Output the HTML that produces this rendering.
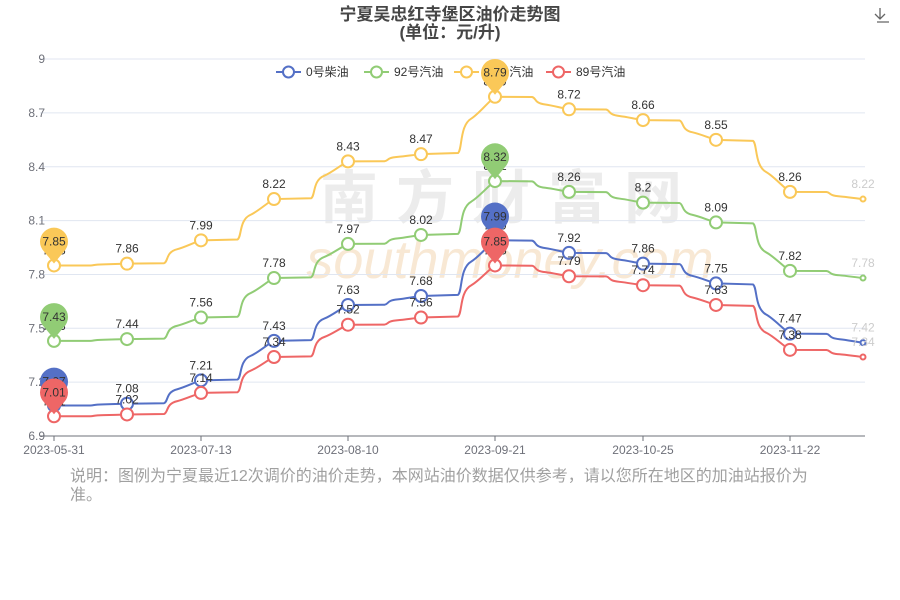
<!DOCTYPE html>
<html><head><meta charset="utf-8"><style>
body{margin:0;background:#fff;width:900px;height:600px;overflow:hidden;font-family:"Liberation Sans","Noto Sans CJK SC",sans-serif}
#note{position:absolute;left:70px;top:467px;width:745px;font-size:16px;line-height:19px;color:#a0a0a0}
</style></head><body>
<svg id="c" width="900" height="600" style="position:absolute;left:0;top:0" font-family="Liberation Sans, Noto Sans CJK SC, sans-serif"></svg>
<div id="note">说明：图例为宁夏最近12次调价的油价走势，本网站油价数据仅供参考，请以您所在地区的加油站报价为准。</div>
<script>
var xs=[54,127,201,274,348,421,495,569,643,716,790,863];
function Y(v){return 436-(v-6.9)*179.5;}
var S=[
{n:'0号柴油',c:'#5470c6',d:[7.07,7.08,7.21,7.43,7.63,7.68,7.99,7.92,7.86,7.75,7.47,7.42]},
{n:'92号汽油',c:'#91cc75',d:[7.43,7.44,7.56,7.78,7.97,8.02,8.32,8.26,8.2,8.09,7.82,7.78]},
{n:'95号汽油',c:'#fac858',d:[7.85,7.86,7.99,8.22,8.43,8.47,8.79,8.72,8.66,8.55,8.26,8.22]},
{n:'89号汽油',c:'#ee6666',d:[7.01,7.02,7.14,7.34,7.52,7.56,7.85,7.79,7.74,7.63,7.38,7.34]}];
var h='';
h+='<text x="450" y="20" text-anchor="middle" font-size="17" font-weight="bold" fill="#464646">宁夏吴忠红寺堡区油价走势图</text>';
h+='<text x="450" y="38" text-anchor="middle" font-size="17" font-weight="bold" fill="#464646">(单位：元/升)</text>';
h+='<text x="510" y="218" text-anchor="middle" font-size="58" fill="#ececec" font-weight="bold" letter-spacing="18">南方财富网</text>';
h+='<text x="510" y="278" text-anchor="middle" font-size="54" fill="#f8e8d4" font-style="italic">southmoney.com</text>';
for(var i=0;i<8;i++){var v=6.9+i*0.3,y=Y(v);
 h+='<line x1="40" x2="865" y1="'+y+'" y2="'+y+'" stroke="#e0e6f1"/>';
 h+='<text x="45" y="'+(y+4)+'" text-anchor="end" font-size="12" fill="#6e7079">'+(Math.round(v*10)/10)+'</text>';}
h+='<line x1="40" x2="865" y1="436" y2="436" stroke="#6e7079"/>';
[[54,'2023-05-31'],[201,'2023-07-13'],[348,'2023-08-10'],[495,'2023-09-21'],[643,'2023-10-25'],[790,'2023-11-22']].forEach(function(t){
 h+='<line x1="'+t[0]+'" x2="'+t[0]+'" y1="436" y2="441" stroke="#6e7079"/>';
 h+='<text x="'+t[0]+'" y="454" text-anchor="middle" font-size="12" fill="#6e7079">'+t[1]+'</text>';});
var lx=[276,364,454,546];
S.forEach(function(s,k){
 h+='<line x1="'+lx[k]+'" x2="'+(lx[k]+25)+'" y1="72" y2="72" stroke="'+s.c+'" stroke-width="2"/><circle cx="'+(lx[k]+12.5)+'" cy="72" r="5.5" fill="#fff" stroke="'+s.c+'" stroke-width="2"/>';
 h+='<text x="'+(lx[k]+30)+'" y="76" font-size="12" fill="#333">'+s.n+'</text>';});
S.forEach(function(s){
 var p='M'+xs[0]+' '+Y(s.d[0]);
 for(var i=1;i<12;i++){var x0=xs[i-1],x1=xs[i],y0=Y(s.d[i-1]),y1=Y(s.d[i]),dx=x1-x0,dy=y1-y0;
  p+=' L'+(x0+0.5*dx)+' '+(y0+0.02*dy)+' C'+(x0+0.56*dx)+' '+(y0+0.08*dy)+' '+(x0+0.52*dx)+' '+(y0+0.5*dy)+' '+(x0+0.68*dx)+' '+(y0+0.62*dy)+' C'+(x0+0.78*dx)+' '+(y0+0.7*dy)+' '+(x0+0.9*dx)+' '+(y0+0.9*dy)+' '+x1+' '+y1;}
 h+='<path d="'+p+'" fill="none" stroke="'+s.c+'" stroke-width="2"/>';
 for(var i=0;i<12;i++){var y=Y(s.d[i]),last=i==11;
  h+='<circle cx="'+xs[i]+'" cy="'+y+'" r="'+(last?2.5:6)+'" fill="#fff" stroke="'+s.c+'" stroke-width="2"/>';
  h+='<text x="'+xs[i]+'" y="'+(y-11)+'" text-anchor="middle" font-size="12" fill="'+(last?'#ccc':'#333')+'">'+s.d[i]+'</text>';}
});
S.forEach(function(s){[0,6].forEach(function(i){var x=xs[i],y=Y(s.d[i]),cy=y-24;
 h+='<path d="M'+(x-10)+' '+(cy+10)+' A14 14 0 1 1 '+(x+10)+' '+(cy+10)+' L'+x+' '+(y-2)+' Z" fill="'+s.c+'"/>';
 h+='<text x="'+x+'" y="'+(cy+4)+'" text-anchor="middle" font-size="12" fill="#333">'+s.d[i]+'</text>';});});
h+='<path d="M880 8v11M875 14l5 5 5-5M877 22h12" stroke="#666" fill="none" stroke-width="1.3"/>';
document.getElementById('c').innerHTML=h;
</script>
</body></html>
